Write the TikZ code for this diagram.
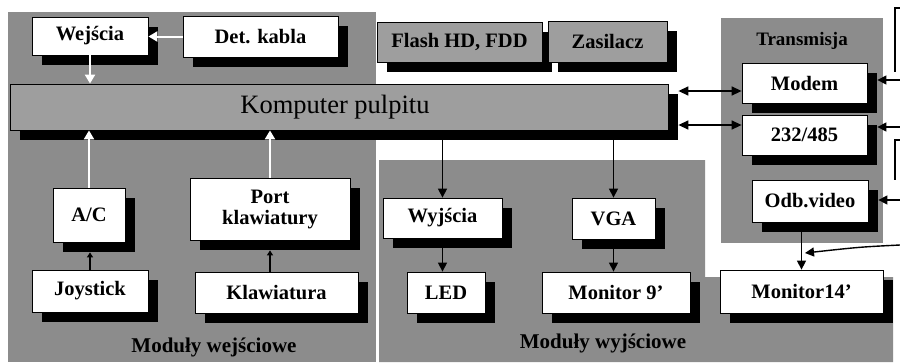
\documentclass[tikz,border=0pt]{standalone}
\usepackage{fontspec}
\setmainfont{Liberation Serif}
\usetikzlibrary{arrows.meta,shadows}
\begin{document}
\begin{tikzpicture}[x=1pt,y=-1pt,
  panel/.style={fill=black!45, draw=none},
  wbox/.style={draw=black, line width=0.8pt, fill=white, inner sep=0pt, align=center,
    font=\bfseries\fontsize{20.5}{21}\selectfont,
    drop shadow={shadow xshift=10pt, shadow yshift=-10pt, fill=black, opacity=1}},
  gbox/.style={wbox, fill=black!38},
  plabel/.style={font=\bfseries\fontsize{21}{22}\selectfont, inner sep=0pt},
  warrow/.style={white, line width=2pt, -{Triangle[width=10pt,length=9pt]}},
  barrow/.style={black, line width=1.4pt, -{Triangle[width=9pt,length=9pt]}},
  sarrow/.style={black, line width=1.2pt, -{Triangle[width=6pt,length=5pt]}},
  dblarrow/.style={black, line width=1.4pt, {Triangle[width=9pt,length=10pt]}-{Triangle[width=9pt,length=10pt]}},
  extline/.style={black, line width=1.2pt}
]
\useasboundingbox (0,0) rectangle (900,362);
\fill[white] (0,0) rectangle (900,362);

% panels
\path[panel] (8,12) rectangle (376,362);
\path[panel] (379,160) -- (705,160) -- (705,277) -- (893,277) -- (893,362) -- (379,362) -- cycle;
\path[panel] (721,18) rectangle (883,243);

% boxes
\node[wbox, minimum width=116pt, minimum height=38pt] (wej) at (90,36) {Wejścia};
\node[wbox, minimum width=155pt, minimum height=41pt] (det) at (260.5,36.5) {Det. kabla};
\node[gbox, minimum width=165pt, minimum height=40pt] (flash) at (459.5,42) {Flash HD, FDD};
\node[gbox, minimum width=119pt, minimum height=41pt] (zas) at (607.5,41.5) {Zasilacz};
\node[gbox, font=\fontsize{26.5}{28}\selectfont, minimum width=658pt, minimum height=46pt] (komp) at (339,107) {\hspace*{-8pt}Komputer pulpitu};

\node[plabel, font=\bfseries\fontsize{19}{20}\selectfont] (trans) at (802,41) {Transmisja};
\node[wbox, minimum width=125pt, minimum height=40pt] (modem) at (804.5,83) {Modem};
\node[wbox, minimum width=125pt, minimum height=40pt] (rs) at (804.5,135) {232/485};
\node[wbox, minimum width=116pt, minimum height=42pt] (odb) at (810,201) {Odb.video};
\node[wbox, minimum width=163pt, minimum height=43pt] (mon14) at (801.5,291.5) {Monitor14'};

\node[wbox, minimum width=72pt, minimum height=54pt] (ac) at (89,215) {A/C};
\node[wbox, minimum width=160pt, minimum height=62pt] (port) at (270,209) {Port\\klawiatury};
\node[wbox, minimum width=116pt, minimum height=42pt] (joy) at (90,291) {Joystick};
\node[wbox, minimum width=163pt, minimum height=41pt] (klaw) at (276.5,292.5) {Klawiatura};

\node[wbox, minimum width=119pt, minimum height=40pt] (wyj) at (442.5,218) {Wyjścia};
\node[wbox, minimum width=83pt, minimum height=41pt] (vga) at (613.5,218.5) {VGA};
\node[wbox, minimum width=78pt, minimum height=41pt] (led) at (446,292.5) {LED};
\node[wbox, minimum width=148pt, minimum height=41pt] (mon9) at (616,292.5) {Monitor 9'};

\node[plabel] (lwe) at (214,347) {Moduły wejściowe};
\node[plabel] (lwy) at (603,343) {Moduły wyjściowe};

% helper coordinates
\coordinate (acs) at ([yshift=-10pt]ac.south);
\coordinate (ps) at ([yshift=-10pt]port.south);
\coordinate (kb) at ([yshift=-10pt]komp.south);
\coordinate (ke) at ([xshift=10pt]komp.east);
\coordinate (ws) at ([yshift=-10pt]wyj.south);
\coordinate (vs) at ([yshift=-10pt]vga.south);
\coordinate (mw) at ([yshift=-8pt]modem.west);
\coordinate (rw) at ([yshift=10pt]rs.west);
\coordinate (me) at ([xshift=10pt]modem.east);
\coordinate (re) at ([xshift=10pt]rs.east);
\coordinate (oe) at ([xshift=10pt]odb.east);
\coordinate (x1) at (900,80);
\coordinate (x2) at (900,127);
\coordinate (x3) at (900,200);
\coordinate (x4) at (900,245);
\coordinate (ct) at (805,253);

% white connectors (input modules)
\draw[warrow] (det.west) -- (det.west -| wej.east);
\draw[warrow] (wej.south) -- (wej.south |- komp.north);
\draw[warrow] (ac.north) -- (ac.north |- komp.south);
\draw[warrow] (port.north) -- (port.north |- komp.south);

% black connectors
\draw[sarrow] (joy.north) -- (joy.north |- acs);
\draw[sarrow] (klaw.north -| ps) -- (ps);
\draw[barrow] (kb -| wyj.north) -- (wyj.north);
\draw[barrow] (kb -| vga.north) -- (vga.north);
\draw[barrow] (ws) -- (ws |- led.north);
\draw[barrow] (vs) -- (vs |- mon9.north);
\draw[dblarrow] (ke |- mw) -- (mw);
\draw[dblarrow] (ke |- rw) -- (rw);
\draw[barrow] (x1) -- (x1 -| me);
\draw[barrow] (x2) -- (x2 -| re);
\draw[barrow] (x3) -- (x3 -| oe);
\draw[barrow] (odb.south -| mon14.north) -- (mon14.north);
\draw[barrow] (x4) .. controls (860,247) .. (ct);

% partial external boxes at the right edge
\draw[extline] (900,8) -- (895,8) -- (895,72);
\draw[extline] (900,140) -- (895,140) -- (895,180);
\end{tikzpicture}
\end{document}
